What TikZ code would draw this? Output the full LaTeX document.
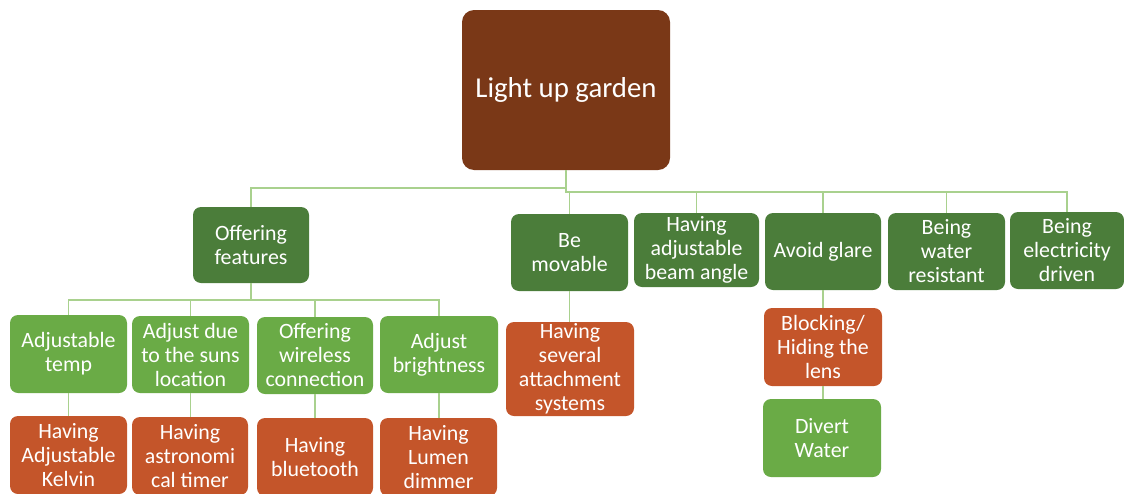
\documentclass[tikz,border=0pt]{standalone}
\usepackage{fontspec}
\setmainfont{Carlito}
\definecolor{rootc}{HTML}{7A3817}
\definecolor{dgreen}{HTML}{4B7D3A}
\definecolor{lgreen}{HTML}{6AAB46}
\definecolor{orng}{HTML}{C4552A}
\definecolor{linec}{HTML}{A9D18E}
\tikzset{
  box/.style={rounded corners=6pt, text=white, align=center, inner sep=1pt,
    font=\fontsize{16.4}{18}\selectfont},
  dbox/.style={box, fill=dgreen},
  lbox/.style={box, fill=lgreen},
  obox/.style={box, fill=orng},
  conn/.style={draw=linec, line width=0.9pt},
}
\begin{document}
\begin{tikzpicture}[x=0.75pt,y=-0.75pt]
\useasboundingbox (0,0) rectangle (1124,493);
\clip (0,0) rectangle (1124,493);
% root
\node[box, fill=rootc, rounded corners=9pt, minimum width=156pt, minimum height=120pt,
  font=\fontsize{21.6}{24}\selectfont] (root) at (566,90) {Light up garden};
% level 2
\node[dbox, minimum width=87pt, minimum height=57pt] (feat) at (251,245) {Offering\\features};
\node[dbox, minimum width=87.75pt, minimum height=57.75pt] (move) at (569.5,252.5) {Be\\movable};
\node[dbox, minimum width=93.75pt, minimum height=55.5pt] (beam) at (696.5,250) {Having\\adjustable\\beam angle};
\node[dbox, minimum width=87pt, minimum height=57.75pt] (glare) at (823,251.5) {Avoid glare};
\node[dbox, minimum width=87.75pt, minimum height=57.75pt] (water) at (946.5,251.5) {Being\\water\\resistant};
\node[dbox, minimum width=85.5pt, minimum height=57.75pt] (elec) at (1067,250.5) {Being\\electricity\\driven};
% level 3
\node[lbox, minimum width=87.75pt, minimum height=58.5pt] (temp) at (68.5,354) {Adjustable\\temp};
\node[lbox, minimum width=87.75pt, minimum height=57.75pt] (suns) at (190.5,354.5) {Adjust due\\to the suns\\location};
\node[lbox, minimum width=87pt, minimum height=57.75pt] (wire) at (315,355.5) {Offering\\wireless\\connection};
\node[lbox, minimum width=88.5pt, minimum height=57.75pt] (bright) at (439,354.5) {Adjust\\brightness};
\node[obox, minimum width=96pt, minimum height=70.5pt] (attach) at (570,369) {Having\\several\\attachment\\systems};
\node[obox, minimum width=88.5pt, minimum height=58.5pt] (lens) at (823,347) {Blocking/\\Hiding the\\lens};
% level 4
\node[obox, minimum width=87.75pt, minimum height=58.5pt] (kelvin) at (68.5,455) {Having\\Adjustable\\Kelvin};
\node[obox, minimum width=87pt, minimum height=58.5pt] (timer) at (190,456) {Having\\astronomi\\cal timer};
\node[obox, minimum width=87pt, minimum height=58.5pt] (bt) at (315,457) {Having\\bluetooth};
\node[obox, minimum width=87.75pt, minimum height=58.5pt] (lumen) at (438.5,457) {Having\\Lumen\\dimmer};
\node[lbox, minimum width=88.5pt, minimum height=58.5pt] (divert) at (822,438) {Divert\\Water};
% bus coordinates
\coordinate (lb) at (567,188);
\coordinate (rb) at (567,192);
\coordinate (fb) at (251,300);
% connectors
\draw[conn] (root.south) -- (root.south |- lb) -| (feat.north);
\foreach \n in {move,beam,glare,water,elec}
  \draw[conn] (root.south) -- (root.south |- rb) -| (\n.north);
\foreach \n in {temp,suns,wire,bright}
  \draw[conn] (feat.south) -- (feat.south |- fb) -| (\n.north);
\draw[conn] (temp.south) -- (kelvin.north);
\draw[conn] (suns.south) -- (suns.south |- timer.north);
\draw[conn] (wire.south) -- (bt.north);
\draw[conn] (bright.south) -- (bright.south |- lumen.north);
\draw[conn] (move.south) -- (move.south |- attach.north);
\draw[conn] (glare.south) -- (lens.north);
\draw[conn] (lens.south) -- (lens.south |- divert.north);
\end{tikzpicture}
\end{document}
